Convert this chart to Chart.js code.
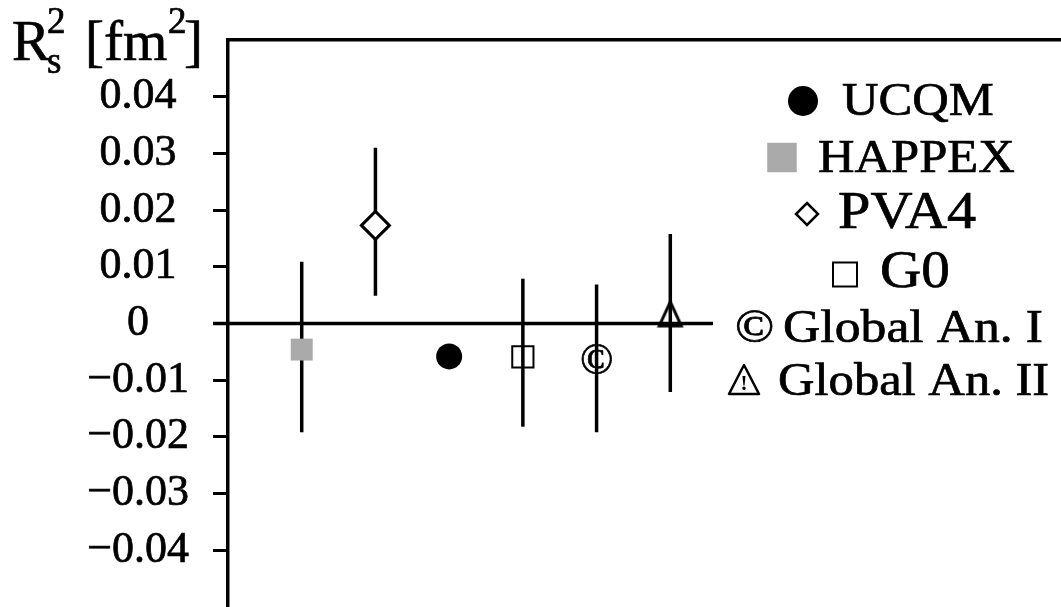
<!DOCTYPE html>
<html>
<head>
<meta charset="utf-8">
<script src="https://cdn.jsdelivr.net/npm/chart.js@4"></script>
<style>
html, body { margin: 0; padding: 0; background: #fff; }
#wrap { width: 1061px; height: 607px; position: relative; }
</style>
</head>
<body>
<div id="wrap"><canvas id="chart"></canvas></div>
<script>
// data
const labels = ['UCQM', 'HAPPEX', 'PVA4', 'G0', 'Global An. I', 'Global An. II'];
const xPos = [3, 1, 2, 4, 5, 6];
const values = [-0.0058, -0.0046, 0.0173, -0.0059, -0.0062, 0.0017];
const errLow = [null, -0.0192, 0.0049, -0.0182, -0.0192, -0.0121];
const errHigh = [null, 0.0109, 0.031, 0.0079, 0.0069, 0.0158];
const yTicks = [-0.04, -0.03, -0.02, -0.01, 0, 0.01, 0.02, 0.03, 0.04];
const zeroLineEnd = 6.58;

const SERIF = "'Liberation Serif', 'Times New Roman', serif";
const LW = 3.5;
const TEXT_STROKE = 0.7;

function triangleMarker() {
    const c = document.createElement('canvas');
    c.width = 28;
    c.height = 28;
    const g = c.getContext('2d');
    g.lineWidth = 3;
    g.strokeStyle = '#000';
    g.beginPath();
    g.moveTo(14, 2);
    g.lineTo(3, 26);
    g.lineTo(25, 26);
    g.closePath();
    g.stroke();
    return c;
}

const styles = [
    { pointStyle: 'circle', radius: 13, bg: '#000', border: '#000', bw: 0 },
    { pointStyle: 'rect', radius: 15.5, bg: '#aaaaaa', border: '#aaaaaa', bw: 0 },
    { pointStyle: 'rectRot', radius: 14, bg: '#fff', border: '#000', bw: 3 },
    { pointStyle: 'rect', radius: 15, bg: 'rgba(0,0,0,0)', border: '#000', bw: 2 },
    { pointStyle: 'circle', radius: 0, bg: 'rgba(0,0,0,0)', border: 'rgba(0,0,0,0)', bw: 0 },
    { pointStyle: triangleMarker(), radius: 14, bg: 'rgba(0,0,0,0)', border: '#000', bw: 0 }
];

// legend rows, same order as labels
const legendRows = [
    { sym: 'circle', sx: 803, sy: 101, ss: 15, tx: 842, base: 115, size: 46 },
    { sym: 'square', sx: 782, sy: 157.5, ss: 29.5, tx: 818, base: 172, size: 46 },
    { sym: 'diamond', sx: 807, sy: 214, ss: 11, tx: 838, base: 228, size: 53 },
    { sym: 'openSquare', sx: 845, sy: 274.5, ss: 24, tx: 880, base: 287, size: 52 },
    { sym: 'copy', sx: 735, tx: 783, base: 342, size: 47 },
    { sym: 'warn', sx: 744, tx: 778, base: 395, size: 46 }
];

function drawText(ctx, text, x, y) {
    ctx.fillText(text, x, y);
    ctx.lineWidth = TEXT_STROKE;
    ctx.strokeText(text, x, y);
}

function stretchText(ctx, text, x, y, size) {
    ctx.save();
    ctx.font = size + 'px ' + SERIF;
    ctx.textAlign = 'left';
    ctx.textBaseline = 'alphabetic';
    ctx.translate(x, y);
    ctx.scale(1.1, 1);
    drawText(ctx, text, 0, 0);
    ctx.restore();
}

function centeredGlyph(ctx, glyph, cx, cy, size) {
    ctx.save();
    ctx.font = size + 'px ' + SERIF;
    ctx.textAlign = 'left';
    ctx.textBaseline = 'alphabetic';
    const m = ctx.measureText(glyph);
    const w = m.actualBoundingBoxRight + m.actualBoundingBoxLeft;
    const h = m.actualBoundingBoxAscent + m.actualBoundingBoxDescent;
    drawText(ctx, glyph, cx - w / 2 + m.actualBoundingBoxLeft, cy + h / 2 - m.actualBoundingBoxDescent);
    ctx.restore();
}

const decor = {
    id: 'decor',
    beforeDatasetsDraw(chart) {
        const ctx = chart.ctx;
        const xs = chart.scales.x;
        const ys = chart.scales.y;
        ctx.save();
        ctx.strokeStyle = '#000';
        ctx.lineWidth = LW;
        ctx.lineCap = 'butt';
        // zero line
        const y0 = ys.getPixelForValue(0);
        ctx.beginPath();
        ctx.moveTo(ys.right - 15, y0);
        ctx.lineTo(xs.getPixelForValue(zeroLineEnd), y0);
        ctx.stroke();
        // error bars
        for (let i = 0; i < labels.length; i++) {
            if (errLow[i] === null) continue;
            const x = xs.getPixelForValue(xPos[i]);
            ctx.beginPath();
            ctx.moveTo(x, ys.getPixelForValue(errHigh[i]));
            ctx.lineTo(x, ys.getPixelForValue(errLow[i]));
            ctx.stroke();
        }
        ctx.restore();
    },
    afterDatasetsDraw(chart) {
        const ctx = chart.ctx;
        const xs = chart.scales.x;
        const ys = chart.scales.y;
        ctx.save();
        ctx.fillStyle = '#000';
        ctx.strokeStyle = '#000';
        centeredGlyph(ctx, '\u00A9', xs.getPixelForValue(xPos[4]), ys.getPixelForValue(values[4]), 44);
        ctx.restore();
    },
    afterDraw(chart) {
        const ctx = chart.ctx;
        ctx.save();
        ctx.fillStyle = '#000';
        ctx.strokeStyle = '#000';

        // y axis title  R_s^2[fm^2]
        ctx.textBaseline = 'alphabetic';
        ctx.font = '57px ' + SERIF;
        drawText(ctx, 'R', 12, 60);
        drawText(ctx, '[fm', 85, 60);
        drawText(ctx, ']', 184, 60);
        ctx.font = '37px ' + SERIF;
        drawText(ctx, 's', 47, 73);
        drawText(ctx, '2', 47, 33);
        drawText(ctx, '2', 168, 33);

        // legend
        legendRows.forEach((r, i) => {
            ctx.lineWidth = 2.5;
            if (r.sym === 'circle') {
                ctx.beginPath();
                ctx.arc(r.sx, r.sy, r.ss, 0, Math.PI * 2);
                ctx.fill();
            } else if (r.sym === 'square') {
                ctx.fillStyle = '#aaaaaa';
                ctx.fillRect(r.sx - r.ss / 2, r.sy - r.ss / 2, r.ss, r.ss);
                ctx.fillStyle = '#000';
            } else if (r.sym === 'diamond') {
                ctx.beginPath();
                ctx.moveTo(r.sx, r.sy - r.ss);
                ctx.lineTo(r.sx + r.ss, r.sy);
                ctx.lineTo(r.sx, r.sy + r.ss);
                ctx.lineTo(r.sx - r.ss, r.sy);
                ctx.closePath();
                ctx.stroke();
            } else if (r.sym === 'openSquare') {
                ctx.lineWidth = 2;
                ctx.strokeRect(r.sx - r.ss / 2, r.sy - r.ss / 2, r.ss, r.ss);
            } else if (r.sym === 'copy') {
                stretchText(ctx, '\u00A9', r.sx, r.base, r.size);
            } else if (r.sym === 'warn') {
                ctx.lineJoin = 'round';
                ctx.beginPath();
                ctx.moveTo(r.sx, r.base - 30);
                ctx.lineTo(r.sx - 15, r.base - 1);
                ctx.lineTo(r.sx + 15, r.base - 1);
                ctx.closePath();
                ctx.stroke();
                ctx.font = 'bold 21px ' + SERIF;
                ctx.textAlign = 'center';
                ctx.fillText('!', r.sx, r.base - 5);
                ctx.textAlign = 'left';
            }
            stretchText(ctx, labels[i], r.tx, r.base, r.size);
        });
        ctx.restore();
    }
};

const datasets = labels.map((name, i) => ({
    label: name,
    data: [{ x: xPos[i], y: values[i] }],
    pointStyle: styles[i].pointStyle,
    pointRadius: styles[i].radius,
    pointHoverRadius: styles[i].radius,
    pointBackgroundColor: styles[i].bg,
    pointBorderColor: styles[i].border,
    pointBorderWidth: styles[i].bw,
    showLine: false
}));

new Chart(document.getElementById('chart'), {
    type: 'scatter',
    data: { datasets: datasets },
    options: {
        responsive: true,
        maintainAspectRatio: false,
        animation: false,
        events: [],
        layout: { autoPadding: false, padding: { top: 40, left: 0, right: 0, bottom: 0 } },
        plugins: {
            legend: { display: false },
            tooltip: { enabled: false }
        },
        scales: {
            x: {
                type: 'linear',
                position: 'top',
                min: 0,
                max: 11.3,
                ticks: { display: false },
                grid: { display: true, drawOnChartArea: false, drawTicks: false },
                border: { display: true, color: '#000', width: LW }
            },
            y: {
                type: 'linear',
                min: -0.05,
                max: 0.05,
                afterBuildTicks(scale) {
                    scale.ticks = yTicks.map(v => ({ value: v }));
                },
                afterFit(scale) {
                    scale.width = 228;
                    scale.paddingTop = 0;
                    scale.paddingBottom = 0;
                },
                ticks: {
                    crossAlign: 'center',
                    padding: 24,
                    color: '#000',
                    textStrokeColor: '#000',
                    textStrokeWidth: TEXT_STROKE,
                    font: { family: SERIF, size: 44 },
                    callback: v => v === 0 ? '0' : (v < 0 ? '\u2212' : '') + Math.abs(v).toFixed(2)
                },
                grid: {
                    drawOnChartArea: false,
                    drawTicks: true,
                    tickLength: 15,
                    tickWidth: 3,
                    color: '#000',
                    lineWidth: 3
                },
                border: { display: true, color: '#000', width: LW }
            }
        }
    },
    plugins: [decor]
});
</script>
</body>
</html>
